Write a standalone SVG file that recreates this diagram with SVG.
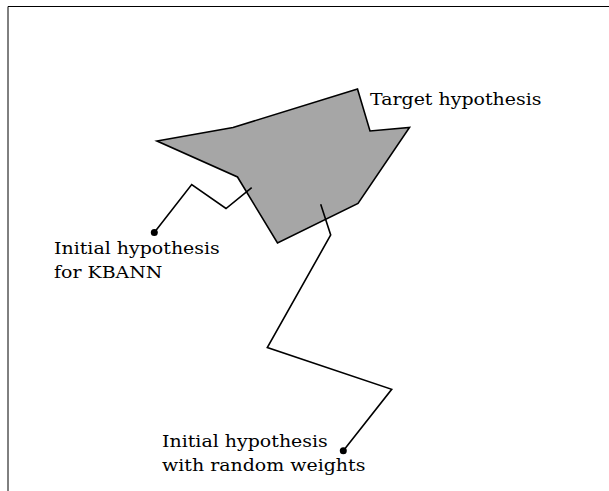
<svg xmlns="http://www.w3.org/2000/svg" width="609" height="491" viewBox="0 0 609 491">
<style>
text{font-family:"DejaVu Serif",serif;font-size:17px;fill:#000}
.ln{fill:none;stroke:#000;stroke-width:1.6;stroke-linejoin:miter}
</style>
<rect width="609" height="491" fill="#fff"/>
<path d="M8,491 V6.5 H609" fill="none" stroke="#000" stroke-width="1"/>
<g id="target">
<polygon points="157,141 233,127.5 357.5,89 370,131 409.5,127.5 358,203.5 277.5,243 237.5,177" fill="#a6a6a6" stroke="#000" stroke-width="1.6"/>
<text transform="translate(370,105) scale(1.115,1)">Target hypothesis</text>
</g>
<g id="kbann">
<circle cx="154.3" cy="232.5" r="3.5" fill="#000"/>
<text transform="translate(54,254) scale(1.115,1)"><tspan x="0" y="0">Initial hypothesis</tspan><tspan x="0" y="24.5">for KBANN</tspan></text>
</g>
<g id="random">
<circle cx="343.3" cy="450.8" r="3.5" fill="#000"/>
<text transform="translate(162,447) scale(1.115,1)"><tspan x="0" y="0">Initial hypothesis</tspan><tspan x="0" y="24">with random weights</tspan></text>
</g>
<g id="connectors">
<polyline class="ln" points="154.3,232.5 191.7,184.5 226,208.5 251.7,187.7"/>
<polyline class="ln" points="343.3,450.8 391.7,389.3 267.3,347.5 330.7,235 320.7,204.3"/>
</g>
</svg>
